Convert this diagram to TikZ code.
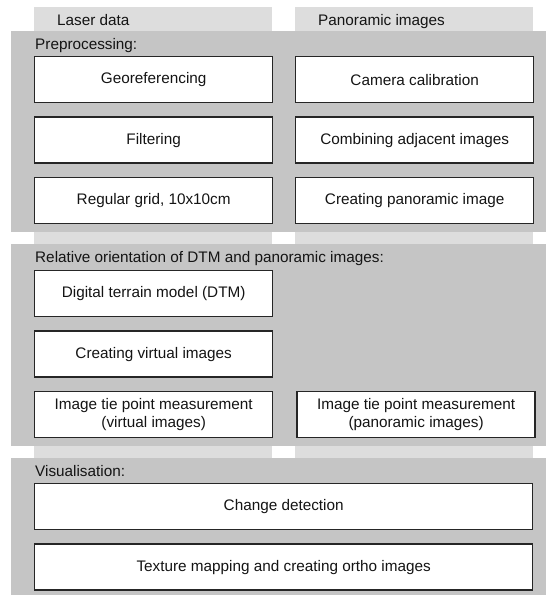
\documentclass[tikz,border=0pt]{standalone}
\usepackage{fontspec}
\setmainfont{Liberation Sans}
\usetikzlibrary{positioning}
\definecolor{ink}{HTML}{141414}
\definecolor{edge}{HTML}{262626}
\definecolor{panelc}{HTML}{C5C5C5}
\definecolor{stripc}{HTML}{DDDDDD}

\begin{document}
\begin{tikzpicture}[
  x=1pt, y=1pt, font=\fontsize{15.3}{18}\selectfont, text=ink,
  col/.style={fill=stripc, inner sep=0pt, anchor=north west, minimum width=238pt, minimum height=451pt},
  panel/.style={fill=panelc, inner sep=0pt, anchor=north west, minimum width=535pt},
  task/.style={draw=edge, line width=1.4pt, fill=white, anchor=north west, align=center, inner sep=2pt, minimum width=238pt, minimum height=46pt},
  wide/.style={task, minimum width=498pt},
  hd/.style={anchor=base west, inner sep=0pt},
  ttl/.style={anchor=base west, inner sep=0pt}
]
\useasboundingbox (0,0) rectangle (546,-595);

% ---- columns and panels
\node[col] (lcol) at (34,-7) {};
\node[col] (rcol) at (295,-7) {};
\node[hd] (laser) at (57,-25) {Laser data};
\node[hd] (panorama) at (318,-25) {Panoramic images};
\node[panel, minimum height=201pt] (pre) at (11,-31) {};
\node[panel, minimum height=202pt] (rel) at (11,-244) {};
\node[panel, minimum height=137pt] (vis) at (11,-458) {};

% ---- preprocessing
\node[ttl] (pretl) at (35,-49) {Preprocessing:};
\node[task] (geo) at (34,-56) {Georeferencing};
\node[task, below=13pt of geo] (filt) {Filtering};
\node[task, below=13pt of filt] (grid) {Regular grid, 10x10cm};
\node[task] (cam) at (295,-56) {Camera calibration};
\node[task, below=13pt of cam] (comb) {Combining adjacent images};
\node[task, below=13pt of comb] (pano) {Creating panoramic image};

% ---- relative orientation
\node[ttl] (reltl) at (35,-262) {Relative orientation of DTM and panoramic images:};
\node[task] (dtm) at (34,-270) {Digital terrain model (DTM)};
\node[task, below=13pt of dtm] (virt) {Creating virtual images};
\node[task, below=13pt of virt] (tiev) {Image tie point measurement\\(virtual images)};
\node[task, right=23pt of tiev] (tiep) {Image tie point measurement\\(panoramic images)};

% ---- visualisation
\node[ttl] (vistl) at (35,-476) {Visualisation:};
\node[wide] (chg) at (34,-483) {Change detection};
\node[wide, below=13pt of chg] (tex) {Texture mapping and creating ortho images};
\end{tikzpicture}
\end{document}
